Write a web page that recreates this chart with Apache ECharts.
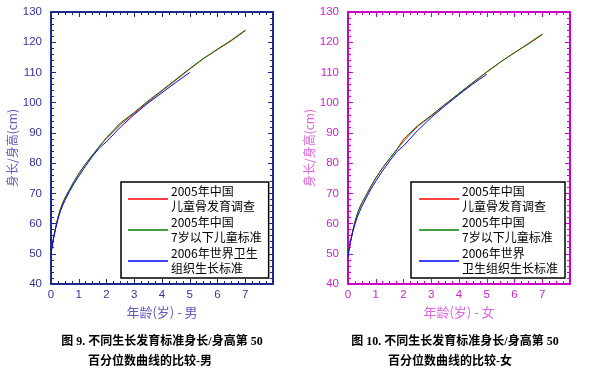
<!DOCTYPE html>
<html><head><meta charset="utf-8">
<script src="https://cdn.jsdelivr.net/npm/echarts@6/dist/echarts.min.js"></script>
<style>html,body{margin:0;padding:0;background:#fff}#c{width:606px;height:373px}</style>
</head><body><div id="c"></div>
<script>
// ---- data ----
const ages = [0, 0.083, 0.167, 0.25, 0.333, 0.417, 0.5, 0.667, 0.833, 1, 1.25, 1.5, 1.75, 2, 2.5, 3, 3.5, 4, 4.5, 5, 5.5, 6, 6.5, 7];
const xTicks = [0, 1, 2, 3, 4, 5, 6, 7];
const yTicks = [40, 50, 60, 70, 80, 90, 100, 110, 120, 130];

// boys
const boysSurvey2005 = [50.4, 54.8, 58.7, 62.0, 64.6, 66.7, 68.4, 71.2, 74.0, 76.5, 79.8, 82.7, 85.6, 88.2, 92.8, 96.5, 100.3, 103.9, 107.5, 111.1, 114.6, 117.6, 120.5, 123.8];
const boysChinaStd = [50.4, 54.8, 58.7, 62.0, 64.6, 66.7, 68.4, 71.2, 74.0, 76.5, 79.8, 82.7, 85.6, 88.5, 93.3, 96.8, 100.6, 104.1, 107.7, 111.3, 114.7, 117.7, 120.7, 124.0];
const boysWHO = [49.9, 54.7, 58.4, 61.4, 63.9, 65.9, 67.6, 70.6, 73.3, 75.7, 79.1, 82.3, 85.1, 87.1, 91.9, 96.1, 99.9, 103.3, 106.7, 110.0];

// girls
const girlsSurvey2005 = [49.7, 53.7, 57.4, 60.6, 63.1, 65.2, 66.8, 69.6, 72.4, 75.0, 78.5, 81.5, 84.4, 87.9, 92.3, 95.8, 99.5, 103.0, 106.6, 110.1, 113.5, 116.5, 119.6, 122.7];
const girlsChinaStd = [49.7, 53.7, 57.4, 60.6, 63.1, 65.2, 66.8, 69.6, 72.4, 75.0, 78.5, 81.5, 84.4, 87.2, 92.1, 95.6, 99.4, 103.1, 106.7, 110.2, 113.5, 116.6, 119.4, 122.5];
const girlsWHO = [49.1, 53.7, 57.1, 59.8, 62.1, 64.0, 65.7, 68.7, 71.5, 74.0, 77.5, 80.7, 83.7, 85.7, 90.7, 95.1, 99.0, 102.7, 106.2, 109.4];

const seriesNames = ['2005年中国儿童骨发育调查', '2005年中国7岁以下儿童标准', '2006年世界卫生组织生长标准'];
const legendTextBoys = ['2005年中国\n儿童骨发育调查', '2005年中国\n7岁以下儿童标准', '2006年世界卫生\n组织生长标准'];
const legendTextGirls = ['2005年中国\n儿童骨发育调查', '2005年中国\n7岁以下儿童标准', '2006年世界\n卫生组织生长标准'];
const xNames = ['年龄(岁) - 男', '年龄(岁) - 女'];
const yName = '身长/身高(cm)';
const captions = [
  ['图 9. 不同生长发育标准身长/身高第 50', '百分位数曲线的比较-男'],
  ['图 10. 不同生长发育标准身长/身高第 50', '百分位数曲线的比较-女']
];
// ---- end data ----

const lineColors = ['#ff0000', '#008000', '#0000ff'];
const panels = [
  {left: 51, axis: '#1c2b8a', label: '#34349c', name: '#5c5cbc'},
  {left: 348, axis: '#cc00cc', label: '#cc22cc', name: '#dd66dd'}
];
const GT = 12, GW = 222, GH = 272;
const pair = (xs, ys) => ys.map((v, i) => [xs[i], v]);

const grids = [], xAxes = [], yAxes = [], series = [], legends = [], graphics = [];
const latin = 'Liberation Sans, Arial, Noto Sans CJK SC, sans-serif';
const cjk = 'Noto Sans CJK SC, sans-serif';

panels.forEach((p, gi) => {
  grids.push({left: p.left, top: GT, width: GW, height: GH});
  const line = {show: true, onZero: false, lineStyle: {color: p.axis, width: 2}};
  const tick = {show: true, inside: true, length: 5, lineStyle: {color: p.axis, width: 1}};
  const xbase = {type: 'value', gridIndex: gi, min: 0, max: 8, interval: 1, splitLine: {show: false},
    axisLine: line, axisTick: tick,
    minorTick: {show: true, splitNumber: 4, length: 3, lineStyle: {color: p.axis, width: 1}}};
  xAxes.push(Object.assign({}, xbase, {position: 'bottom',
    name: xNames[gi], nameLocation: 'middle', nameGap: 17,
    nameTextStyle: {color: p.name, fontSize: 13, fontFamily: cjk},
    axisLabel: {color: p.label, fontSize: 11.5, fontFamily: latin, margin: 5,
      formatter: v => xTicks.includes(v) ? String(v) : ''}}));
  xAxes.push(Object.assign({}, xbase, {position: 'top', axisLabel: {show: false}}));
  const ybase = {type: 'value', gridIndex: gi, min: 40, max: 130, interval: 10, splitLine: {show: false},
    axisLine: line, axisTick: tick,
    minorTick: {show: true, splitNumber: 5, length: 3, lineStyle: {color: p.axis, width: 1}}};
  yAxes.push(Object.assign({}, ybase, {position: 'left',
    name: yName, nameLocation: 'middle', nameGap: 27,
    nameTextStyle: {color: p.name, fontSize: 12, fontFamily: cjk},
    axisLabel: {color: p.label, fontSize: 11.5, fontFamily: latin, margin: 9,
      formatter: v => yTicks.includes(v) ? String(v) : ''}}));
  yAxes.push(Object.assign({}, ybase, {position: 'right', axisLabel: {show: false}}));

  const d = gi === 0 ? [boysSurvey2005, boysChinaStd, boysWHO] : [girlsSurvey2005, girlsChinaStd, girlsWHO];
  d.forEach((vals, si) => {
    series.push({type: 'line', name: seriesNames[si], xAxisIndex: gi * 2, yAxisIndex: gi * 2,
      data: pair(ages, vals), symbol: 'none', showSymbol: false, smooth: false, animation: false,
      lineStyle: {color: lineColors[si], width: 1}, itemStyle: {color: lineColors[si]}, z: 2 + si});
  });

  const texts = gi === 0 ? legendTextBoys : legendTextGirls;
  legends.push({data: seriesNames.map(n => ({name: n, icon: 'rect'})), orient: 'vertical',
    left: gi === 0 ? 121 : 411, top: 182,
    padding: [2, 7, 2, gi === 0 ? 7 : 8], itemGap: 1, itemWidth: 40, itemHeight: 1.5,
    borderColor: '#000', borderWidth: 1.5, backgroundColor: '#fff', selectedMode: false,
    formatter: name => texts[seriesNames.indexOf(name)],
    textStyle: {fontSize: 12, lineHeight: 15, color: '#000', fontFamily: cjk, padding: [0, 0, 0, -2]}});

  const cx = [[162, 150], [455, 450]][gi];
  captions[gi].forEach((t, li) => {
    graphics.push({type: 'text', x: cx[li], y: [342, 362][li],
      style: {text: t, fill: '#000', font: 'bold 12px "Liberation Serif", "Noto Sans CJK SC", serif',
        textAlign: 'center', textVerticalAlign: 'middle'}});
  });
});

const chart = echarts.init(document.getElementById('c'), null, {renderer: 'canvas'});
chart.setOption({
  animation: false,
  backgroundColor: '#fff',
  grid: grids, xAxis: xAxes, yAxis: yAxes, series: series, legend: legends,
  graphic: graphics
});
</script></body></html>
